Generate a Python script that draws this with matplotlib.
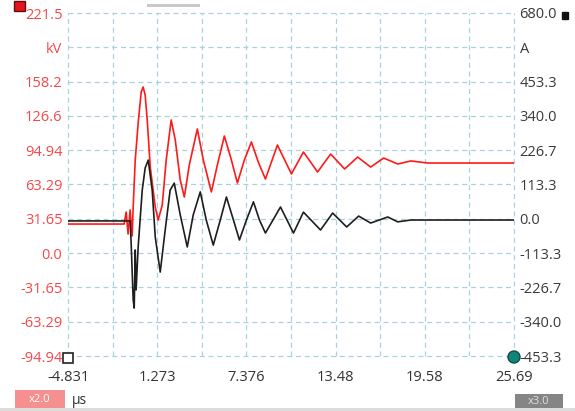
import numpy as np
import matplotlib.pyplot as plt
from matplotlib.patches import Rectangle, Circle

plt.rcParams['font.family'] = ['Open Sans', 'DejaVu Sans']

# voltage trace (kV, left axis)
t_kv = [-4.83, -0.99, -0.85, -0.72, -0.58, -0.44, -0.37, -0.23, -0.03, 0.18, 0.31,
        0.45, 0.59, 0.80, 1.14, 1.34, 1.62, 1.89, 2.23, 2.51, 2.85, 3.13, 3.47,
        4.02, 4.43, 4.98, 5.39, 5.87, 6.35, 6.76, 7.24, 7.72, 8.19, 8.68, 9.50,
        10.46, 11.28, 12.25, 13.14, 14.10, 14.99, 15.88, 16.77, 17.73, 18.63,
        19.79, 25.69]
kv = [26.8, 26.8, 37.9, 17.6, 39.8, 15.8, 42.5, 85.9, 120.0, 148.6, 153.2,
      145.8, 122.8, 79.4, 42.5, 30.5, 44.4, 85.9, 122.8, 104.3, 67.4, 51.7, 81.3,
      114.5, 85.9, 56.4, 81.3, 108.0, 85.9, 64.7, 85.9, 102.5, 84.0, 68.3, 99.7,
      73.0, 93.3, 74.8, 91.4, 77.6, 88.6, 79.4, 87.7, 82.2, 85.0,
      83.1, 83.1]

# current trace (A, right axis)
t_a = [-4.83, -0.58, -0.51, -0.37, -0.30, -0.23, -0.17, -0.03, 0.25, 0.45, 0.66,
       0.93, 1.14, 1.48, 1.82, 2.16, 2.44, 2.85, 3.33, 3.74, 4.22, 4.63, 5.11,
       5.59, 6.01, 6.49, 6.90, 7.38, 7.86, 8.27, 8.68, 9.71, 10.60, 11.28, 12.45,
       13.28, 14.24, 15.06, 15.88, 17.05, 17.73, 18.63, 25.69]
amps = [-7, -7, -80, -268, -295, -103, -235, -93, 95, 168, 194,
        95, -60, -176, -37, 95, 118, 13, -93, 13, 89, -4, -87,
        -4, 72, -4, -70, -4, 56, -4, -47, 39, -47, 22, -37,
        19, -27, 9, -14, 6, -10, -4, -4]

kv_ticks = [-94.94, -63.29, -31.65, 0.0, 31.65, 63.29, 94.94, 126.6, 158.2, 189.8, 221.5]
kv_labels = ['-94.94', '-63.29', '-31.65', '0.0', '31.65', '63.29', '94.94', '126.6', '158.2', 'kV', '221.5']
a_ticks = [-453.3, -340.0, -226.7, -113.3, 0.0, 113.3, 226.7, 340.0, 453.3, 566.7, 680.0]
a_labels = ['-453.3', '-340.0', '-226.7', '-113.3', '0.0', '113.3', '226.7', '340.0', '453.3', 'A', '680.0']
t_ticks = [-4.831, 1.273, 7.376, 13.48, 19.58, 25.69]
t_labels = ['-4.831', '1.273', '7.376', '13.48', '19.58', '25.69']

red = '#ff1a1a'
lab_red = '#f2484c'
grid_c = '#a9d2df'

fig = plt.figure(figsize=(5.75, 4.11), dpi=100)
ax = fig.add_axes([68/575, 55/411, 446/575, 301/411 + 42/411])
ax2 = ax.twinx()

ax.plot(t_kv, kv, color=red, lw=1.2, zorder=3)
ax2.plot(t_a, amps, color='#1e1e1e', lw=1.2)

ax.set_xlim(t_ticks[0], t_ticks[-1])
ax.set_ylim(kv_ticks[0], kv_ticks[-1])
ax2.set_ylim(a_ticks[0], a_ticks[-1])

ax.set_xticks(t_ticks)
ax.set_xticklabels(t_labels)
ax.set_xticks(np.array(t_ticks[:-1]) + (t_ticks[1] - t_ticks[0]) / 2, minor=True)
ax.set_yticks(kv_ticks)
ax.set_yticklabels(kv_labels)
ax2.set_yticks(a_ticks)
ax2.set_yticklabels(a_labels)

ax.tick_params(axis='x', which='both', length=0, pad=10, labelsize=10.5, labelcolor='#333333')
ax.tick_params(axis='y', length=0, pad=4, labelsize=10.5, labelcolor=lab_red)
ax2.tick_params(axis='y', length=0, pad=4, labelsize=10.5, labelcolor='#3a3a3a')

ax.grid(True, which='both', color=grid_c, ls=(0, (4, 3)), lw=0.9)
for g in ax.get_xgridlines() + ax.get_ygridlines():
    g.set_clip_on(False)
for a in (ax, ax2):
    for s in a.spines.values():
        s.set_visible(False)

# cursor markers and corner badges
fig.patches.append(Rectangle((14, 400), 11, 10, transform=None, fc='#e8141c', ec='#5a1010', lw=1))
fig.patches.append(Rectangle((562, 392), 6, 7, transform=None, fc='#111111', ec='#111111'))
fig.patches.append(Rectangle((63, 48), 10, 10, transform=None, fc='white', ec='#222222', lw=1.2))
fig.patches.append(Circle((514, 54), 6, transform=None, fc='#12857a', ec='#0b4f49', lw=1))

fig.patches.append(Rectangle((15, 3), 50, 18, transform=None, fc='#f58f90', ec='none'))
fig.text(40/575, 12/411, 'x2.0', color='white', fontsize=8, ha='center', va='center')
fig.text(72/575, 11/411, 'µs', color='#333333', fontsize=10, ha='left', va='center')
fig.patches.append(Rectangle((515, 3), 48, 14, transform=None, fc='#858585', ec='none'))
fig.text(539/575, 10/411, 'x3.0', color='#e0e0e0', fontsize=8, ha='center', va='center')
fig.patches.append(Rectangle((0, 0), 575, 3, transform=None, fc='#dcdcdc', ec='none'))
fig.patches.append(Rectangle((147, 404), 53, 3, transform=None, fc='#c8c8c8', ec='none'))

fig.savefig('out.png', dpi=100)
